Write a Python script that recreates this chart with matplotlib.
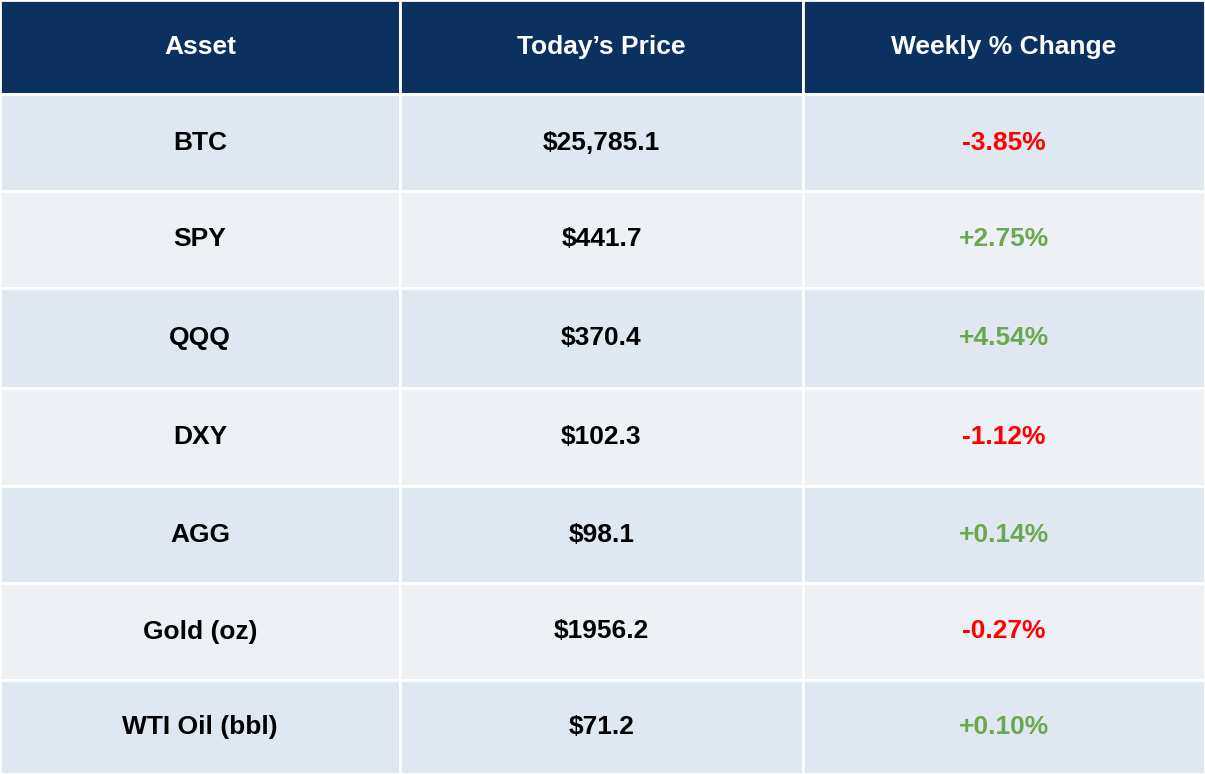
import matplotlib.pyplot as plt
import matplotlib.patches as patches

headers = ["Asset", "Today\u2019s Price", "Weekly % Change"]
assets = ["BTC", "SPY", "QQQ", "DXY", "AGG", "Gold (oz)", "WTI Oil (bbl)"]
prices = ["$25,785.1", "$441.7", "$370.4", "$102.3", "$98.1", "$1956.2", "$71.2"]
changes = [-3.85, 2.75, 4.54, -1.12, 0.14, -0.27, 0.10]

W, H = 1205, 774
col_edges = [0, 400, 803, 1205]
row_edges = [0, 94, 191, 288, 388, 486, 583, 680, 774]

header_color = '#0c3161'
row_colors = ['#dfe8f1', '#edf1f5']
red = '#ff0000'
green = '#6aa84f'

plt.rcParams['font.family'] = ['Liberation Sans', 'DejaVu Sans']

fig = plt.figure(figsize=(12.05, 7.74), dpi=100)
ax = fig.add_axes([0, 0, 1, 1])
ax.set_xlim(0, W)
ax.set_ylim(H, 0)
ax.axis('off')

for r in range(len(row_edges) - 1):
    y0, y1 = row_edges[r], row_edges[r + 1]
    for c in range(3):
        x0, x1 = col_edges[c], col_edges[c + 1]
        fc = header_color if r == 0 else row_colors[(r - 1) % 2]
        ax.add_patch(patches.Rectangle((x0, y0), x1 - x0, y1 - y0,
                                       facecolor=fc, edgecolor='white', linewidth=2))
        if r == 0:
            txt, color = headers[c], 'white'
        else:
            i = r - 1
            if c == 0:
                txt, color = assets[i], 'black'
            elif c == 1:
                txt, color = prices[i], 'black'
            else:
                v = changes[i]
                txt = f"{v:+.2f}%"
                color = green if v >= 0 else red
        ax.text((x0 + x1) / 2, (y0 + y1) / 2, txt, ha='center', va='center',
                fontsize=19, fontweight='bold', color=color)

fig.savefig('out.png', dpi=100)
